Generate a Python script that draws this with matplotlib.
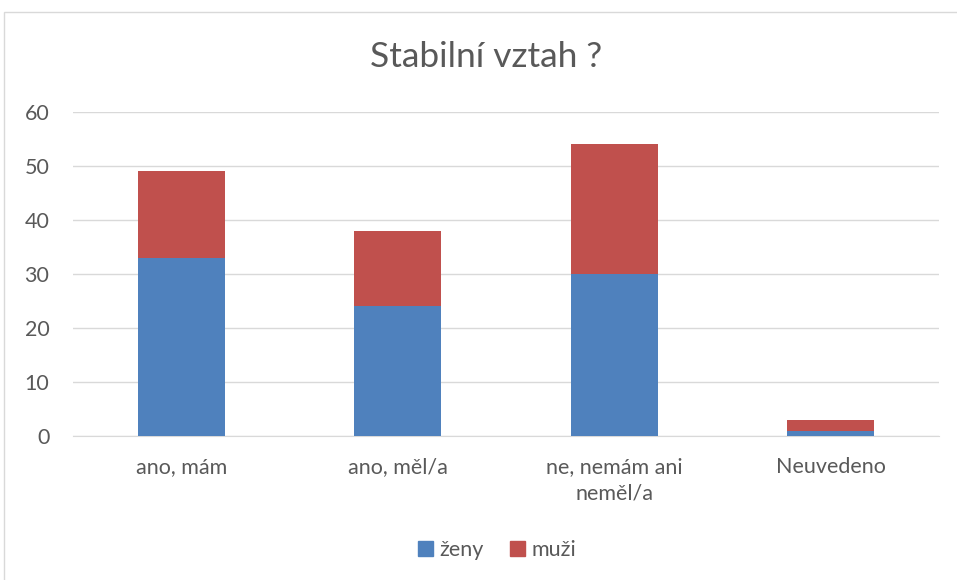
import matplotlib
matplotlib.use("Agg")
import matplotlib.pyplot as plt
from matplotlib.patches import Rectangle, Patch
import numpy as np

categories = ["ano, mám", "ano, měl/a", "ne, nemám ani\nneměl/a", "Neuvedeno"]
zeny = [33, 24, 30, 1]
muzi = [16, 14, 24, 2]
yticks = [0, 10, 20, 30, 40, 50, 60]

plt.rcParams['font.family'] = ['Lato', 'DejaVu Sans']
txt = '#595959'
blue = '#4F81BD'
red = '#C0504D'

fig = plt.figure(figsize=(9.57, 5.8), dpi=100)
fig.patches.append(Rectangle((4/957, -0.01), 1.0, 1 - 12/580 + 0.01, transform=fig.transFigure,
                             fill=False, edgecolor='#D9D9D9', linewidth=1))
ax = fig.add_axes([73/957, 144/580, (939-73)/957, (436-112)/580])
x = np.arange(len(categories))
ax.bar(x, zeny, width=0.4, color=blue, label='ženy', zorder=3)
ax.bar(x, muzi, width=0.4, bottom=zeny, color=red, label='muži', zorder=3)
ax.set_xlim(-0.5, 3.5)
ax.set_ylim(0, 60)
ax.set_yticks(yticks)
ax.set_xticks(x)
ax.set_xticklabels(categories, linespacing=1.4)
ax.grid(axis='y', color='#D9D9D9', linewidth=1, zorder=0)
for s in ['top', 'right', 'left']:
    ax.spines[s].set_visible(False)
ax.spines['bottom'].set_color('#D9D9D9')
ax.tick_params(axis='both', length=0, labelsize=15.5, colors=txt)
ax.tick_params(axis='x', pad=15)
ax.tick_params(axis='y', pad=17)
fig.text(0.5 + 8/957, 1 - 57/580, "Stabilní vztah ?", ha='center', va='center', fontsize=25.5, color=txt)
handles = [Patch(color=blue, label='ženy'), Patch(color=red, label='muži')]
fig.legend(handles=handles, loc='center', bbox_to_anchor=(497/957, 1 - 550/580), ncol=2,
           frameon=False, fontsize=15.5, labelcolor=txt, handlelength=0.7, handleheight=0.7,
           handletextpad=0.3, columnspacing=1.2)
fig.savefig('out.png', dpi=100)
